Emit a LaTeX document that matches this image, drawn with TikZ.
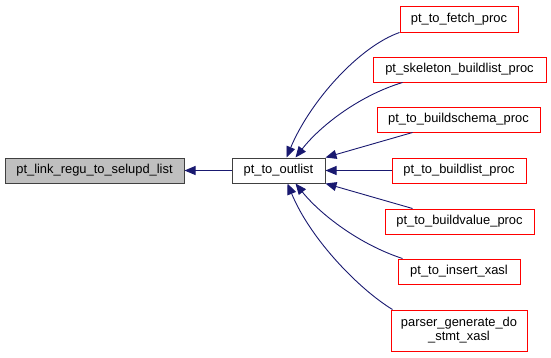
\documentclass[tikz,border=0pt]{standalone}
\usepackage{fontspec}
\setmainfont{Liberation Sans}
\usetikzlibrary{arrows.meta}

\definecolor{edgeblue}{HTML}{191970}
\definecolor{boxgray}{HTML}{BFBFBF}

\tikzset{
  fn/.style={draw, line width=1pt, inner sep=0pt, align=center,
    font=\fontsize{12.9}{14}\selectfont},
  caller/.style={fn, draw=red, fill=white},
  edge/.style={draw=edgeblue, line width=0.9pt,
    {Triangle[length=11pt,width=9pt]}-},
}

\begin{document}
\begin{tikzpicture}[x=1pt,y=-1pt]
    \useasboundingbox (0,0) rectangle (551,357);

    \node[fn, fill=boxgray, draw=black!75, minimum width=179pt, minimum height=25pt] (regu) at (94.5,170.5) {pt\_link\_regu\_to\_selupd\_list};
    \node[fn, fill=white, draw=black!75, minimum width=93pt, minimum height=25pt] (outlist) at (278.5,170.5) {pt\_to\_outlist};

    \node[caller, minimum width=118pt, minimum height=26pt] (fetch) at (459,19) {pt\_to\_fetch\_proc};
    \node[caller, minimum width=173pt, minimum height=25pt] (skeleton) at (459.5,69.5) {pt\_skeleton\_buildlist\_proc};
    \node[caller, minimum width=163pt, minimum height=25pt] (schema) at (458.5,119.5) {pt\_to\_buildschema\_proc};
    \node[caller, minimum width=134pt, minimum height=25pt] (buildlist) at (459,170.5) {pt\_to\_buildlist\_proc};
    \node[caller, minimum width=149pt, minimum height=25pt] (buildvalue) at (459.5,221.5) {pt\_to\_buildvalue\_proc};
    \node[caller, minimum width=122pt, minimum height=25pt] (insert) at (459,271.5) {pt\_to\_insert\_xasl};
    \node[caller, minimum width=136pt, minimum height=41pt] (parser) at (459,330.5) {parser\_generate\_do\\\_stmt\_xasl};

    \draw[edge] (regu) -- (outlist);

    \draw[edge] ([xshift=8pt]outlist.north) .. controls +(24,-57) and +(-40,14) .. (fetch.south west);
    \draw[edge] ([xshift=17pt]outlist.north) .. controls +(25,-32) and +(-43,13) .. ([xshift=30pt]skeleton.south west);
    \draw[edge] (outlist.north east) -- ([xshift=36pt]schema.south west);
    \draw[edge] (outlist) -- (buildlist);
    \draw[edge] (outlist.south east) -- ([xshift=28pt]buildvalue.north west);
    \draw[edge] ([xshift=17pt]outlist.south) .. controls +(25,31) and +(-43,-14) .. ([xshift=5pt]insert.north west);
    \draw[edge] ([xshift=9pt]outlist.south) .. controls +(23,56) and +(-33,-20) .. ([xshift=2pt]parser.north west);

\end{tikzpicture}
\end{document}
